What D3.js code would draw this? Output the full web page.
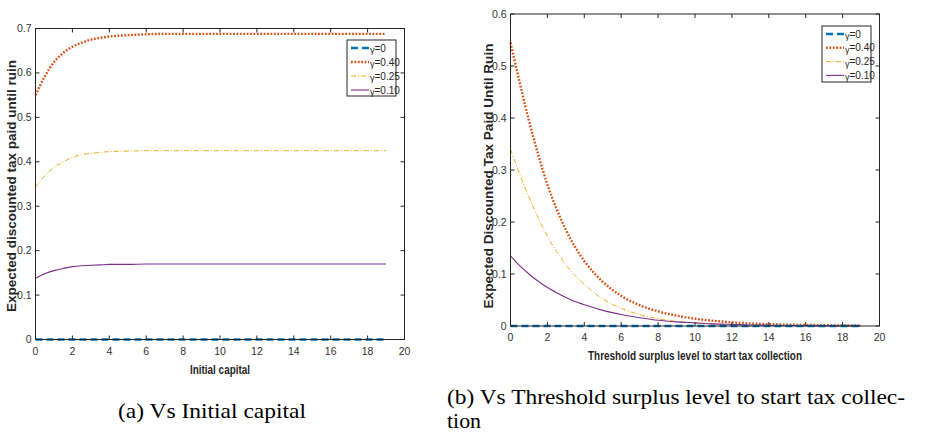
<!DOCTYPE html>
<html>
<head>
<meta charset="utf-8">
<script src="https://cdn.jsdelivr.net/npm/d3@7"></script>
<style>
  body { margin: 0; background: #fff; }
  svg { display: block; }
  .tick-lbl { font-family: "Liberation Sans Narrow", "Liberation Sans", Arial, sans-serif; font-size: 10.5px; fill: #333; }
  .ax-title { font-family: "Liberation Sans", Arial, sans-serif; font-weight: bold; font-size: 12.5px; fill: #262626; }
  .caption { font-family: "Liberation Serif", "Times New Roman", Times, serif; font-size: 21px; fill: #000; }
  .leg-txt { font-family: "Liberation Sans Narrow", "Liberation Sans", Arial, sans-serif; font-size: 10px; fill: #262626; }
</style>
</head>
<body>
<svg width="930" height="433"></svg>
<script>
// x values shared by both panels
var xs = [0,0.5,1,1.5,2,2.5,3,3.5,4,5,6,7,8,9,10,11,12,13,14,15,16,17,18,19];

// panel (a): vs initial capital
var g0A  = [0,0,0,0,0,0,0,0,0,0,0,0,0,0,0,0,0,0,0,0,0,0,0,0];
var g40A = [0.550,0.592,0.624,0.645,0.659,0.668,0.675,0.679,0.682,0.685,0.687,0.688,0.688,0.688,0.688,0.688,0.688,0.688,0.688,0.688,0.688,0.688,0.688,0.688];
var g25A = [0.343,0.368,0.387,0.400,0.410,0.416,0.419,0.421,0.423,0.424,0.425,0.425,0.425,0.425,0.425,0.425,0.425,0.425,0.425,0.425,0.425,0.425,0.425,0.425];
var g10A = [0.138,0.148,0.155,0.160,0.164,0.166,0.167,0.168,0.169,0.169,0.170,0.170,0.170,0.170,0.170,0.170,0.170,0.170,0.170,0.170,0.170,0.170,0.170,0.170];

// panel (b): vs threshold surplus level
var g0B  = [0,0,0,0,0,0,0,0,0,0,0,0,0,0,0,0,0,0,0,0,0,0,0,0];
var g40B = [0.545,0.468,0.395,0.330,0.272,0.225,0.185,0.152,0.125,0.085,0.058,0.040,0.028,0.020,0.014,0.010,0.007,0.005,0.0035,0.0025,0.002,0.0015,0.001,0.001];
var g25B = [0.340,0.292,0.248,0.208,0.172,0.143,0.118,0.097,0.080,0.052,0.034,0.022,0.014,0.009,0.006,0.004,0.003,0.002,0.0015,0.001,0.001,0.0008,0.0006,0.0005];
var g10B = [0.135,0.116,0.100,0.086,0.074,0.064,0.055,0.047,0.041,0.030,0.022,0.016,0.011,0.008,0.006,0.004,0.003,0.002,0.0015,0.001,0.0008,0.0006,0.0005,0.0004];

var legendLabels = ["0", "0.40", "0.25", "0.10"];
var xTicks = [0,2,4,6,8,10,12,14,16,18,20];

// line styles, matlab default colours
var styles = [
  {color: "#0072BD", width: 2.4, dash: "7,4"},
  {color: "#D95319", width: 2.4, dash: "1.8,1.6"},
  {color: "#EDB120", width: 1, dash: "5,2,1,2"},
  {color: "#7E2F8E", width: 1.1, dash: null}
];

var svg = d3.select("svg");
svg.append("rect").attr("width", 930).attr("height", 433).attr("fill", "#fff");

drawPanel = (cfg) => {
  var x = d3.scaleLinear().domain([0, 20]).range([cfg.left, cfg.right]);
  var y = d3.scaleLinear().domain([0, cfg.ymax]).range([cfg.bottom, cfg.top]);
  var yTicks = d3.range(0, cfg.ymax + 0.0001, 0.1);

  var g = svg.append("g");

  // curves
  var line = d3.line()
    .x(function(d) { return x(d[0]); })
    .y(function(d) { return y(d[1]); })
    .curve(d3.curveMonotoneX);

  // draw order so blue dashes sit on the axis
  [1,2,3,0].forEach(function(i) {
    var pts = xs.map(function(v, k) { return [v, cfg.series[i][k]]; });
    g.append("path")
      .attr("d", line(pts))
      .attr("fill", "none")
      .attr("stroke", styles[i].color)
      .attr("stroke-width", styles[i].width)
      .attr("stroke-dasharray", styles[i].dash);
  });

  // box
  g.append("rect")
    .attr("x", cfg.left).attr("y", cfg.top)
    .attr("width", cfg.right - cfg.left).attr("height", cfg.bottom - cfg.top)
    .attr("fill", "none").attr("stroke", "#262626").attr("stroke-width", 1);

  // ticks, inward on all four sides
  var tl = 4;
  xTicks.forEach(function(t) {
    g.append("line").attr("x1", x(t)).attr("x2", x(t)).attr("y1", cfg.bottom).attr("y2", cfg.bottom - tl).attr("stroke", "#262626");
    g.append("line").attr("x1", x(t)).attr("x2", x(t)).attr("y1", cfg.top).attr("y2", cfg.top + tl).attr("stroke", "#262626");
    g.append("text").attr("class", "tick-lbl")
      .attr("x", x(t)).attr("y", cfg.bottom + 15)
      .attr("text-anchor", "middle").text(t);
  });
  yTicks.forEach(function(t) {
    g.append("line").attr("x1", cfg.left).attr("x2", cfg.left + tl).attr("y1", y(t)).attr("y2", y(t)).attr("stroke", "#262626");
    g.append("line").attr("x1", cfg.right).attr("x2", cfg.right - tl).attr("y1", y(t)).attr("y2", y(t)).attr("stroke", "#262626");
    g.append("text").attr("class", "tick-lbl")
      .attr("x", cfg.left - 4).attr("y", y(t) + 3.5)
      .attr("text-anchor", "end").text(d3.format(".1~f")(t));
  });

  // axis titles
  g.append("text").attr("class", "ax-title")
    .attr("x", (cfg.left + cfg.right) / 2).attr("y", cfg.xTitleY)
    .attr("text-anchor", "middle")
    .attr("textLength", cfg.xTitleLen).attr("lengthAdjust", "spacingAndGlyphs")
    .text(cfg.xTitle);
  g.append("text").attr("class", "ax-title")
    .attr("transform", "translate(" + cfg.yTitleX + "," + cfg.yTitleCY + ") rotate(-90)")
    .attr("text-anchor", "middle")
    .attr("textLength", cfg.yTitleLen).attr("lengthAdjust", "spacingAndGlyphs")
    .text(cfg.yTitle);

  // legend
  var L = cfg.legend;
  g.append("rect").attr("x", L.x).attr("y", L.y).attr("width", L.w).attr("height", L.h)
    .attr("fill", "#fff").attr("stroke", "#262626").attr("stroke-width", 1);
  legendLabels.forEach(function(lbl, i) {
    var yy = L.y + 8 + i * L.step;
    g.append("line").attr("x1", L.x + 4).attr("x2", L.x + 22).attr("y1", yy).attr("y2", yy)
      .attr("stroke", styles[i].color).attr("stroke-width", styles[i].width)
      .attr("stroke-dasharray", styles[i].dash);
    var t = g.append("text").attr("class", "leg-txt").attr("x", L.x + 23).attr("y", yy + 3.5);
    t.append("tspan").attr("dy", 1.5).attr("font-size", "9px").text("\u03b3");
    t.append("tspan").attr("dy", -1.5).text("=" + lbl);
  });

  // caption
  cfg.caption.forEach(function(c) {
    g.append("text").attr("class", "caption")
      .attr("x", c.x).attr("y", c.y)
      .attr("textLength", c.len).attr("lengthAdjust", "spacingAndGlyphs")
      .text(c.text);
  });
};

drawPanel({
  left: 35.5, right: 404.5, top: 28.5, bottom: 339.5, ymax: 0.7,
  series: [g0A, g40A, g25A, g10A],
  xTitle: "Initial capital", xTitleY: 374, xTitleLen: 60,
  yTitle: "Expected discounted tax paid until ruin", yTitleX: 16, yTitleCY: 186, yTitleLen: 252,
  legend: {x: 347, y: 40, w: 49, h: 56, step: 14},
  caption: [{x: 118, y: 418, len: 188, text: "(a) Vs Initial capital"}]
});

drawPanel({
  left: 510.5, right: 879.5, top: 14, bottom: 326, ymax: 0.6,
  series: [g0B, g40B, g25B, g10B],
  xTitle: "Threshold surplus level to start tax collection", xTitleY: 360, xTitleLen: 214,
  yTitle: "Expected Discounted Tax Paid Until Ruin", yTitleX: 493, yTitleCY: 176, yTitleLen: 265,
  legend: {x: 822, y: 26, w: 49, h: 56, step: 13.8},
  caption: [
    {x: 447, y: 404, len: 458, text: "(b) Vs Threshold surplus level to start tax collec-"},
    {x: 447, y: 428, len: 34, text: "tion"}
  ]
});
</script>
</body>
</html>
